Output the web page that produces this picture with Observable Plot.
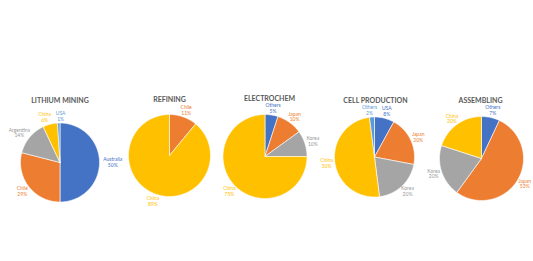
<!DOCTYPE html>
<html>
<head>
<meta charset="utf-8">
<script src="https://cdn.jsdelivr.net/npm/d3@7"></script>
<script src="https://cdn.jsdelivr.net/npm/@observablehq/plot@0.6"></script>
<style>
  html, body { margin: 0; padding: 0; background: #fff; }
  #chart { width: 533px; height: 261px; }
</style>
</head>
<body>
<div id="chart"></div>
<script>
// ---- data ----
const stages = ["LITHIUM MINING", "REFINING", "ELECTROCHEM", "CELL PRODUCTION", "ASSEMBLING"];
const miningNames = ["Australia", "Chile", "Argentina", "China", "USA"];
const miningShares = [50, 29, 14, 6, 1];
const refiningNames = ["Australia", "Chile", "Argentina", "China"];
const refiningShares = [0, 11, 0, 89];
const electroNames = ["Others", "Japan", "Korea", "China"];
const electroShares = [5, 10, 10, 75];
const cellNames = ["USA", "Japan", "Korea", "China", "Others"];
const cellShares = [8, 20, 20, 50, 2];
const assemblyNames = ["Others", "Japan", "Korea", "China"];
const assemblyShares = [7, 53, 20, 20];

// ---- styles / layout ----
const palette = ["#4472C4", "#ED7D31", "#A5A5A5", "#FFC000", "#5B9BD5"];
const labelPalette = ["#4472C4", "#ED7D31", "#999999", "#FFC000", "#5B9BD5"];
const centers = [[59.5, 162], [169, 155], [264.5, 156], [374, 156.5], [481, 158]];
const radii = [39.5, 41, 42, 40, 42];
const titlePos = [[59.5, 100.5], [169, 99], [269, 98], [375, 100.3], [480, 100]];

const series = [
  [miningNames, miningShares],
  [refiningNames, refiningShares],
  [electroNames, electroShares],
  [cellNames, cellShares],
  [assemblyNames, assemblyShares]
];

const polys = [];
const labels = [];
const titles = stages.map((s, i) => ({text: s, x: titlePos[i][0], y: titlePos[i][1]}));

series.forEach(([names, shares], si) => {
  const [cx, cy] = centers[si];
  const r = radii[si];
  const total = d3.sum(shares);
  const pieLabels = [];
  let acc = 0;
  shares.forEach((v, k) => {
    const a0 = acc / total * 2 * Math.PI;
    acc += v;
    const a1 = acc / total * 2 * Math.PI;
    if (v <= 0) return;
    const id = si + "-" + k;
    const color = palette[k];
    polys.push({id, color, x: cx, y: cy});
    const n = Math.max(2, Math.ceil((a1 - a0) / (Math.PI / 180)));
    for (let j = 0; j <= n; j++) {
      const a = a0 + (a1 - a0) * j / n;
      polys.push({id, color, x: cx + r * Math.sin(a), y: cy - r * Math.cos(a)});
    }
    polys.push({id, color, x: cx, y: cy});
    // label outside end
    const am = (a0 + a1) / 2;
    const s = Math.sin(am), c = Math.cos(am);
    const R = r + 2;
    const halfW = names[k].length * 1.25;
    const halfH = 5.2;
    pieLabels.push({
      text: names[k] + "\n" + v + "%",
      color: labelPalette[k],
      halfW, halfH,
      x: cx + R * s + halfW * s,
      y: cy - R * c - halfH * c
    });
  });
  // simple collision pass: push horizontally overlapping labels apart
  const pad = 6;
  for (let i = 0; i < pieLabels.length; i++) {
    for (let j = i + 1; j < pieLabels.length; j++) {
      const A = pieLabels[i], B = pieLabels[j];
      if (Math.abs(A.y - B.y) > A.halfH + B.halfH) continue;
      const left = A.x < B.x ? A : B, right = A.x < B.x ? B : A;
      const gap = (right.x - right.halfW) - (left.x + left.halfW);
      if (gap < pad) {
        const need = pad - gap;
        const wl = left.halfW / (left.halfW + right.halfW);
        left.x -= need * wl;
        right.x += need * (1 - wl);
      }
    }
  }
  labels.push(...pieLabels);
});

const chart = Plot.plot({
  width: 533,
  height: 261,
  margin: 0,
  x: {domain: [0, 533], range: [0, 533], axis: null},
  y: {domain: [0, 261], range: [0, 261], axis: null},
  color: {type: "identity"},
  style: {background: "#fff", fontFamily: "Lato, 'Open Sans', sans-serif"},
  marks: [
    Plot.line(polys, {x: "x", y: "y", z: "id", fill: "color", stroke: "#fff", strokeWidth: 0.6, curve: "linear"}),
    Plot.text(labels, {x: "x", y: "y", text: "text", fill: "color", fontSize: 5, lineHeight: 1.15, fontFamily: "Lato"}),
    Plot.text(titles, {x: "x", y: "y", text: "text", fill: "#595959", fontSize: 7, fontWeight: "bold", fontFamily: "Lato"})
  ]
});
document.getElementById("chart").appendChild(chart);
</script>
</body>
</html>
